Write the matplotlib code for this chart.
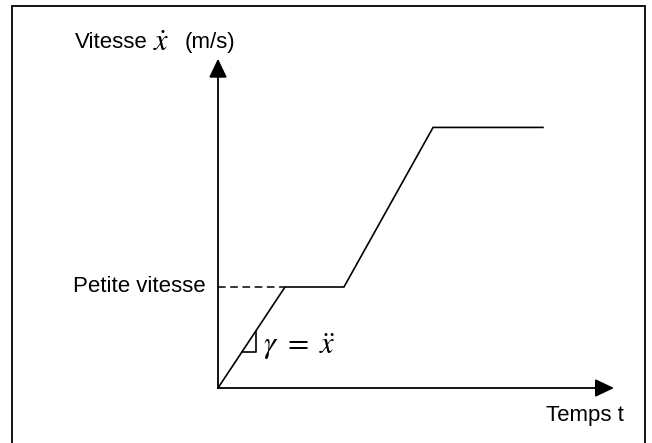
import matplotlib
matplotlib.use("Agg")
import matplotlib.pyplot as plt
from matplotlib.patches import Rectangle

plt.rcParams['mathtext.fontset'] = 'stix'
plt.rcParams['font.family'] = ['Liberation Sans', 'DejaVu Sans']

# Velocity profile (time units, velocity units)
t_profile = [0.0, 1.0, 1.88, 3.21, 4.85]
v_profile = [0.0, 1.0, 1.0, 2.58, 2.58]
v_petite = 1.0
# small slope triangle (on the first ramp)
tri_v = [0.36, 0.56]

labels = {
    'y1': "Vitesse",
    'y2': "$\\dot{x}$",
    'y3': "(m/s)",
    'x': "Temps t",
    'petite': "Petite vitesse",
    'gamma': "$\\gamma\\ =\\ \\ddot{x}$",
}

W, H = 652, 443
fig = plt.figure(figsize=(W / 100, H / 100), dpi=100)
ax = fig.add_axes([0, 0, 1, 1])
ox, oy = 218, 388     # origin in pixels
sx, sy = 67.0, 101.0  # pixels per unit
ax.set_xlim(-ox / sx, (W - ox) / sx)
ax.set_ylim(-(H - oy) / sy, oy / sy)
ax.axis('off')

# outer frame
fig.patches.append(Rectangle((12 / W, -0.1), (645 - 12) / W, 1.1 - 6 / H,
                             transform=fig.transFigure, fill=False,
                             edgecolor='black', linewidth=1.3))

arrow = dict(arrowstyle='-|>,head_length=1.15,head_width=0.55', mutation_scale=10,
             lw=1.3, color='black', shrinkA=0, shrinkB=0)
ax.annotate('', xy=(0, 3.26), xytext=(0, 0), arrowprops=arrow)
ax.annotate('', xy=(5.91, 0), xytext=(0, 0), arrowprops=arrow)

ax.plot(t_profile, v_profile, color='black', lw=1.2, solid_joinstyle='miter')
ax.plot([0, t_profile[1]], [v_petite, v_petite], color='black', lw=1.1,
        linestyle=(0, (5, 3)))

slope = v_profile[1] / t_profile[1]
t_lo, t_hi = tri_v[0] / slope, tri_v[1] / slope
ax.plot([t_lo, t_hi, t_hi], [tri_v[0], tri_v[0], tri_v[1]], color='black', lw=1.2)

ax.text(-2.13, 3.42, labels['y1'], ha='left', va='center', fontsize=16)
ax.text((153 - ox) / sx, 3.415, labels['y2'], ha='left', va='center', fontsize=22)
ax.text((185 - ox) / sx, 3.42, labels['y3'], ha='left', va='center', fontsize=16)
ax.text(-0.19, v_petite, labels['petite'], ha='right', va='center', fontsize=16)
ax.text(6.06, -0.27, labels['x'], ha='right', va='center', fontsize=16)
ax.text(0.67, 0.41, labels['gamma'], ha='left', va='center', fontsize=22)

fig.savefig('out.png', dpi=100)
